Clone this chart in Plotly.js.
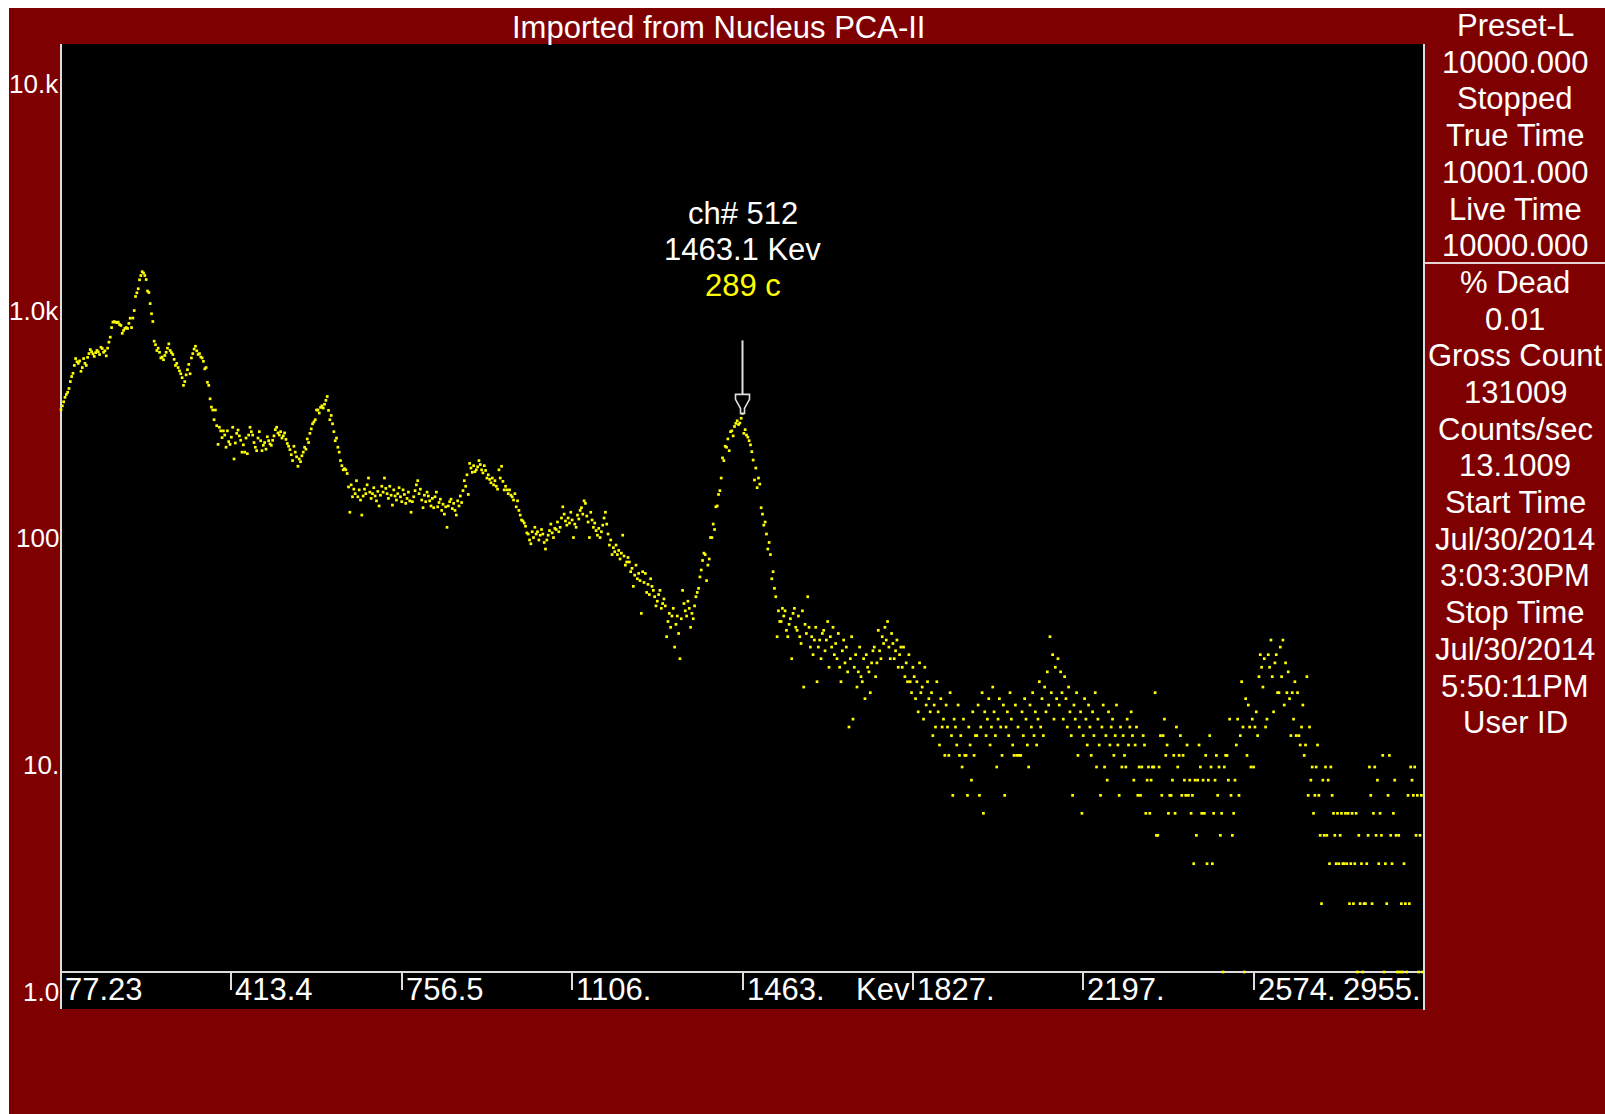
<!DOCTYPE html>
<html>
<head>
<meta charset="utf-8">
<script src="https://cdn.plot.ly/plotly-3.0.1.min.js"></script>
<style>
  html, body { margin: 0; padding: 0; background: #ffffff; }
  #frame { position: absolute; left: 9px; top: 8px; width: 1596px; height: 1106px; overflow: hidden; }
  #chart { width: 1596px; height: 1106px; }
</style>
</head>
<body>
<div id="frame"><div id="chart"></div></div>
<script>
// Counts per channel (channel index = array index), 1024 channels
const counts = [
  300,312,325,340,350,358,372,399,420,434,470,504,488,480,492,443,
  460,504,480,470,510,530,552,540,528,515,535,547,540,525,565,558,
  537,545,518,560,595,626,690,729,733,729,725,729,712,705,651,670,
  684,690,684,720,759,690,760,820,946,982,1023,1120,1170,1216,1200,1170,
  1123,1000,985,880,794,734,601,580,547,560,537,507,512,498,520,537,
  560,585,547,535,525,500,470,480,460,445,432,415,384,399,427,450,
  475,432,507,530,555,571,545,525,530,512,507,490,454,460,396,384,
  335,308,299,271,299,255,211,251,242,226,242,232,205,242,217,211,
  227,251,182,214,236,244,230,220,195,210,195,225,192,232,251,240,
  232,215,205,198,225,240,219,198,209,215,201,228,219,212,209,220,
  230,245,251,237,232,240,225,230,237,222,213,207,200,190,179,207,
  195,186,169,182,177,188,195,205,201,223,215,236,247,260,265,271,
  299,299,290,307,312,305,317,330,343,298,271,283,260,240,219,225,
  205,195,179,170,163,165,163,157,137,106,140,124,134,128,146,124,
  133,120,103,125,134,128,140,150,130,122,128,136,125,119,131,113,
  126,138,130,150,135,128,122,138,126,114,133,125,120,128,136,124,
  118,133,127,116,122,130,119,106,118,124,132,140,146,128,134,120,
  111,126,118,130,125,119,113,122,111,124,130,112,117,121,108,115,
  104,112,91,113,118,121,110,116,108,103,119,113,125,117,132,146,
  138,155,127,174,166,159,170,160,163,168,179,172,163,158,170,162,
  150,155,148,143,150,140,146,138,134,163,150,169,145,133,138,133,
  128,133,126,124,120,128,112,119,108,103,98,97,95,92,86,85,
  80,77,87,82,91,85,87,80,84,89,85,78,73,80,84,88,
  94,86,82,90,89,96,87,91,100,112,104,97,93,100,95,106,
  98,82,94,91,103,99,108,111,104,119,116,102,96,82,106,98,
  91,95,88,84,90,82,87,93,100,106,94,85,76,80,69,74,
  71,76,69,72,66,70,84,68,62,64,67,64,58,60,50,56,
  62,54,57,53,38,58,52,57,47,51,46,54,50,48,45,41,
  43,46,48,40,42,44,41,30,35,38,33,37,40,27,34,37,
  31,24,36,48,42,39,37,43,40,33,38,36,41,45,47,49,
  55,59,65,70,69,53,62,66,82,82,94,89,112,113,127,132,
  150,184,179,207,205,223,198,240,242,230,253,261,268,258,262,275,
  289,236,245,232,227,219,210,196,180,147,166,136,150,141,111,104,
  93,96,85,73,78,69,54,58,49,45,30,39,35,35,40,37,
  39,32,30,34,36,24,38,40,33,32,37,30,28,39,18,34,
  31,45,33,27,30,25,29,33,19,27,29,24,31,32,26,29,
  35,22,30,27,33,25,28,24,31,22,19,26,29,23,27,21,
  12,24,30,13,22,25,18,21,27,20,19,24,16,25,22,21,
  17,23,26,27,20,23,32,26,24,30,28,33,29,35,27,24,
  31,28,24,26,29,22,25,27,22,27,20,23,19,25,19,17,
  22,20,16,19,14,23,17,18,13,22,15,19,16,14,17,11,
  15,12,19,14,10,16,12,13,9,15,12,9,17,11,6,13,
  12,10,15,9,11,8,13,9,9,6,12,10,7,14,9,11,
  11,15,6,12,17,5,14,11,13,16,10,12,18,14,11,8,
  13,16,12,9,15,6,12,14,11,17,13,10,9,15,9,12,
  9,9,14,11,16,13,10,8,15,12,17,11,14,10,13,19,
  12,16,11,18,14,21,15,30,17,25,13,22,16,24,15,21,
  17,13,20,16,12,18,14,11,6,15,13,17,9,12,14,5,
  11,16,13,10,15,12,9,14,11,17,8,13,10,6,12,15,
  8,11,7,14,10,12,13,9,11,15,10,6,12,8,11,9,
  8,13,10,12,14,11,7,10,12,6,8,6,8,11,10,5,
  7,8,5,7,8,8,17,4,4,8,11,6,11,13,9,10,
  5,6,6,7,9,5,12,8,9,11,6,9,7,6,10,6,
  7,5,6,3,7,4,7,10,8,5,7,5,9,3,7,11,
  8,3,5,7,9,6,8,4,5,1,8,9,9,7,13,6,
  4,5,7,10,13,6,11,19,12,1,16,9,15,12,8,13,
  8,12,14,11,20,25,22,18,24,12,13,25,22,29,20,14,
  23,25,17,17,27,20,29,15,23,17,21,16,11,17,13,19,
  11,17,11,10,12,15,9,10,20,6,12,7,8,5,6,8,
  10,6,4,2,7,4,8,4,7,3,8,6,5,4,3,5,
  3,4,5,3,3,5,3,5,2,3,5,2,3,5,1,4,
  2,3,1,2,2,3,4,8,6,2,5,8,4,7,3,5,
  4,9,1,3,2,6,9,4,3,5,7,4,1,4,1,2,
  1,3,2,1,6,2,8,7,6,8,4,6,1,4,6,1
];

// Energy calibration marks (channel -> keV label)
const tickChannels = [0, 128, 256, 384, 512, 640, 768, 896, 1024];
const tickEnergies = ['77.23', '413.4', '756.5', '1106.', '1463.', '1827.', '2197.', '2574.', '2955.'];
const energyUnit = 'Kev';

// Count axis decades
const decadeValues = [1, 10, 100, 1000, 10000];
const decadeLabels = ['1.0', '10.', '100', '1.0k', '10.k'];

// Cursor readout
const cursorChannel = 512;
const cursorEnergy = '1463.1';

// Acquisition status panel
const statusLines = [
  'Preset-L', '10000.000', 'Stopped', 'True Time', '10001.000', 'Live Time', '10000.000',
  '% Dead', '0.01', 'Gross Count', '131009', 'Counts/sec', '13.1009',
  'Start Time', 'Jul/30/2014', '3:03:30PM', 'Stop Time', 'Jul/30/2014', '5:50:11PM', 'User ID'
];
const titleText = 'Imported from Nucleus PCA-II';

// ---- layout geometry (pixels inside the chart div) ----
const W = 1596, H = 1106;
const L = 52, T = 36, PW = 1363, PH = 928;
const R = W - L - PW, B = H - T - PH;
const px = v => (v - L) / PW;          // pixel x -> paper x
const py = v => (T + PH - v) / PH;     // pixel y -> paper y

const FONT = 'Liberation Sans, Arial, Helvetica, sans-serif';
const WHITE = '#ffffff';
const LINE = '#dcdcdc';
const YELLOW = '#ffff00';
const RED = '#7f0000';

const channels = counts.map((_, i) => i);
const cursorCount = counts[cursorChannel];

const trace = {
  type: 'scatter',
  mode: 'markers',
  x: channels,
  y: counts,
  marker: { symbol: 'square', size: 2.7, color: YELLOW, line: { width: 0 } },
  cliponaxis: false,
  hoverinfo: 'skip'
};

const annotations = [];

// title
annotations.push({
  text: titleText, xref: 'paper', yref: 'paper', x: px(709.5), y: py(19),
  xanchor: 'center', yanchor: 'middle', showarrow: false,
  font: { family: FONT, size: 31, color: WHITE }
});

// status panel
statusLines.forEach((s, i) => {
  annotations.push({
    text: s, xref: 'paper', yref: 'paper', x: px(1506), y: py(17.6 + 36.69 * i),
    xanchor: 'center', yanchor: 'middle', showarrow: false,
    font: { family: FONT, size: 31, color: WHITE }
  });
});

// count axis labels
decadeValues.forEach((v, i) => {
  annotations.push({
    text: decadeLabels[i], xref: 'paper', yref: 'y', x: px(51.5), y: Math.log10(v),
    yshift: -20, xanchor: 'right', yanchor: 'middle', showarrow: false,
    font: { family: FONT, size: 26, color: WHITE }
  });
});

// energy labels
tickChannels.forEach((c, i) => {
  const last = i === tickChannels.length - 1;
  annotations.push({
    text: tickEnergies[i], xref: 'x', yref: 'paper', x: c, y: 0,
    xshift: last ? -1 : 2, yshift: -17,
    xanchor: last ? 'right' : 'left', yanchor: 'middle', showarrow: false,
    font: { family: FONT, size: 31, color: WHITE }
  });
});
annotations.push({
  text: energyUnit, xref: 'x', yref: 'paper', x: tickChannels[5], y: 0,
  xshift: -1, yshift: -17, xanchor: 'right', yanchor: 'middle', showarrow: false,
  font: { family: FONT, size: 31, color: WHITE }
});

// cursor readout
const cursorText = [
  { t: 'ch# ' + cursorChannel, c: WHITE, dy: 200 },
  { t: cursorEnergy + ' ' + energyUnit, c: WHITE, dy: 164 },
  { t: cursorCount + ' c', c: YELLOW, dy: 128 }
];
cursorText.forEach(o => {
  annotations.push({
    text: o.t, xref: 'x', yref: 'y', x: cursorChannel, y: Math.log10(cursorCount),
    yshift: o.dy, xanchor: 'center', yanchor: 'middle', showarrow: false,
    font: { family: FONT, size: 31, color: o.c }
  });
});

const shapes = [
  // energy label strip under the axis
  { type: 'rect', xref: 'paper', yref: 'paper', x0: 0, x1: 1, y0: py(1001), y1: 0,
    fillcolor: '#000000', line: { width: 0 }, layer: 'below' },
  // frame lines
  { type: 'line', xref: 'paper', yref: 'paper', x0: px(52), x1: px(52), y0: py(1001), y1: 1,
    line: { color: LINE, width: 2 }, layer: 'below' },
  { type: 'line', xref: 'paper', yref: 'paper', x0: 1, x1: 1, y0: py(1002), y1: 1,
    line: { color: LINE, width: 2 }, layer: 'below' },
  { type: 'line', xref: 'paper', yref: 'paper', x0: 0, x1: 1, y0: 0, y1: 0,
    line: { color: LINE, width: 2 }, layer: 'below' },
  // panel separator
  { type: 'line', xref: 'paper', yref: 'paper', x0: 1, x1: px(W), y0: py(255), y1: py(255),
    line: { color: '#e6d2d2', width: 2 } },
  // cursor arrow shaft
  { type: 'line', xref: 'x', yref: 'y', xsizemode: 'pixel', ysizemode: 'pixel',
    xanchor: cursorChannel, yanchor: cursorCount, x0: 0, x1: 0, y0: 19, y1: 73,
    line: { color: '#e0e0e0', width: 2 } },
  // cursor arrow head (hollow)
  { type: 'path', xref: 'x', yref: 'y', xsizemode: 'pixel', ysizemode: 'pixel',
    xanchor: cursorChannel, yanchor: cursorCount,
    path: 'M -7,19 L 7,19 L 7,14 L 2,5 L 2,0 L -2,0 L -2,5 L -7,14 Z',
    fillcolor: '#000000', line: { color: '#e0e0e0', width: 1.6 } }
];

const layout = {
  width: W, height: H,
  margin: { l: L, r: R, t: T, b: B, pad: 0 },
  paper_bgcolor: RED,
  plot_bgcolor: '#000000',
  showlegend: false,
  font: { family: FONT, color: WHITE },
  xaxis: {
    range: [0, 1024], showgrid: false, zeroline: false, showline: false,
    tickmode: 'array', tickvals: tickChannels.slice(1, -1),
    ticks: 'outside', ticklen: 17, tickwidth: 2, tickcolor: LINE,
    showticklabels: false, fixedrange: true
  },
  yaxis: {
    type: 'log', range: [0, 928 / 227], showgrid: false, zeroline: false,
    showline: false, ticks: '', showticklabels: false, fixedrange: true
  },
  annotations: annotations,
  shapes: shapes
};

Plotly.newPlot('chart', [trace], layout, { staticPlot: true, displayModeBar: false });
</script>
</body>
</html>
